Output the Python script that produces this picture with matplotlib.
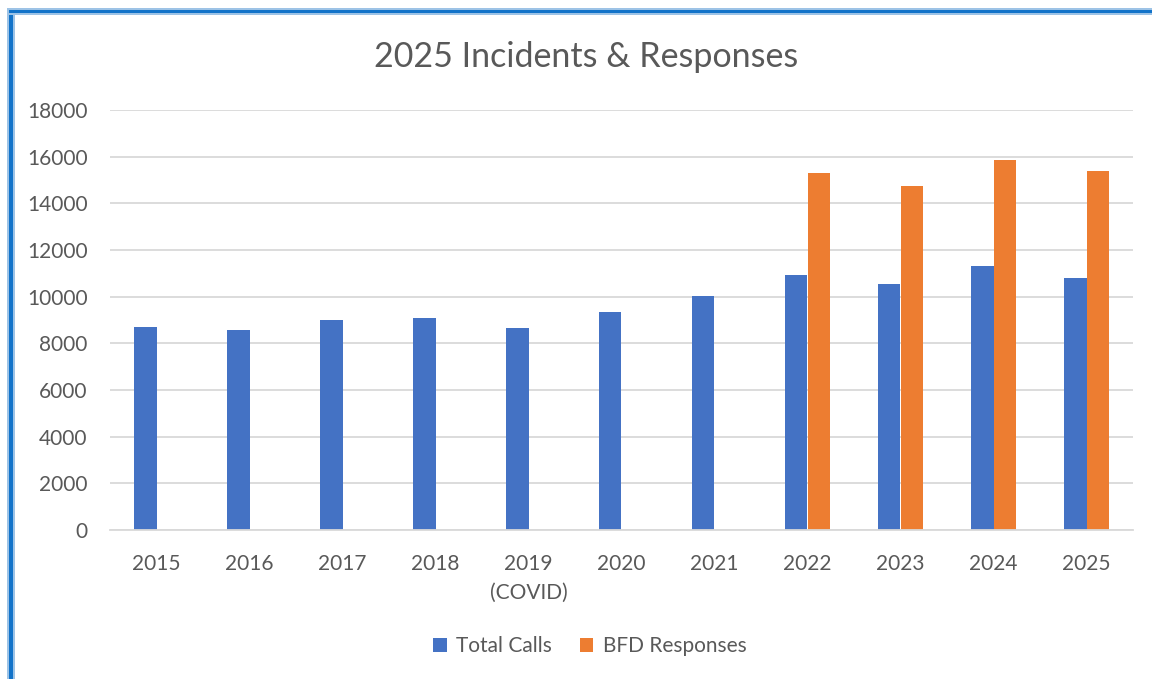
import matplotlib as mpl
import matplotlib.pyplot as plt
from matplotlib.patches import Rectangle
import numpy as np

years = ['2015', '2016', '2017', '2018', '2019\n(COVID)', '2020', '2021',
         '2022', '2023', '2024', '2025']
total_calls = [8700, 8580, 9020, 9100, 8650, 9350, 10050, 10930, 10530, 11310, 10820]
bfd_responses = [np.nan] * 7 + [15290, 14740, 15860, 15400]

blue = '#4472C4'
orange = '#ED7D31'
grey_text = '#595959'
grid_col = '#D9D9D9'

mpl.rcParams.update({'font.family': ['Lato', 'DejaVu Sans'], 'font.size': 15})
fig = plt.figure(figsize=[11.52, 6.79], dpi=100)
ax = fig.add_axes([110 / 1152, 1 - 530 / 679, 1023 / 1152, 420 / 679])

x = np.arange(len(years))
w = 0.242
ax.bar(x - w / 2, total_calls, w, color=blue, label='Total Calls')
ax.bar(x + w / 2, bfd_responses, w, color=orange, label='BFD Responses')

ax.set_xlim(-0.5, len(years) - 0.5)
ax.set_ylim(0, 18000)
ax.set_yticks(np.arange(0, 18001, 2000))
ax.set_xticks(x)
ax.set_xticklabels(years, linespacing=1.55)
ax.yaxis.grid(True, color=grid_col, linewidth=1.3)
ax.set_axisbelow(True)
for s in ['top', 'right', 'left']:
    ax.spines[s].set_visible(False)
ax.spines['bottom'].set_color(grid_col)
ax.spines['bottom'].set_linewidth(1.3)
ax.tick_params(length=0, colors=grey_text, labelsize=15)
ax.tick_params(axis='y', pad=16)
ax.tick_params(axis='x', pad=17)

fig.text(0.509, 1 - 57 / 679, '2025 Incidents & Responses', ha='center', va='center',
         fontsize=24.5, color=grey_text)

fig.legend(loc='center', bbox_to_anchor=(0.512, 1 - 646 / 679), ncol=2, frameon=False,
           handlelength=0.65, handleheight=0.65, handletextpad=0.45, columnspacing=1.35,
           labelcolor=grey_text, fontsize=15)

# blue frame on left and top edges
W, H = 1152, 679
def px_rect(x0, y0, w_, h_, c):
    fig.patches.append(Rectangle((x0 / W, 1 - (y0 + h_) / H), w_ / W, h_ / H,
                                 transform=fig.transFigure, color=c, lw=0))
px_rect(7, 8, 8, H, '#9DC3E6')
px_rect(9, 10, 3.5, H, '#1273C9')
px_rect(7, 8, W, 7, '#9DC3E6')
px_rect(9, 10, W, 3, '#1273C9')

plt.savefig('out.png')
